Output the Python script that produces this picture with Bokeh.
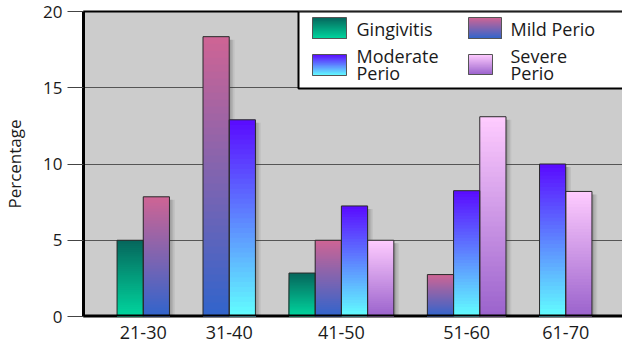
from bokeh.plotting import figure
from bokeh.layouts import column
from bokeh.models import FactorRange, Range1d, FixedTicker, ColumnDataSource
from bokeh.transform import dodge
from bokeh.core.properties import value
from bokeh.embed import file_html
from bokeh.resources import INLINE

ages = ["21-30", "31-40", "41-50", "51-60", "61-70"]
series = ["Gingivitis", "Mild Perio", "Moderate Perio", "Severe Perio"]
gingivitis = [5.0, 0, 2.85, 0, 0]
mild_perio = [7.85, 18.35, 5.0, 2.75, 0]
moderate_perio = [0, 12.9, 7.25, 8.25, 10.0]
severe_perio = [0, 0, 5.0, 13.1, 8.2]
y_ticks = [0, 5, 10, 15, 20]

values = {"Gingivitis": gingivitis, "Mild Perio": mild_perio,
          "Moderate Perio": moderate_perio, "Severe Perio": severe_perio}
top_color = {"Gingivitis": "#06665c", "Mild Perio": "#cf6494",
             "Moderate Perio": "#5a0aff", "Severe Perio": "#ffccff"}
bottom_color = {"Gingivitis": "#00d69e", "Mild Perio": "#3064cc",
                "Moderate Perio": "#62ffff", "Severe Perio": "#9a62cc"}

FONT = value("Open Sans")
GP = 1.28  # group padding / outer padding (in bar widths)


def hex2rgb(h):
    h = h.lstrip("#")
    return [int(h[i:i + 2], 16) for i in (0, 2, 4)]


def lerp(c1, c2, t):
    a, b = hex2rgb(c1), hex2rgb(c2)
    return "#%02x%02x%02x" % tuple(int(round(a[i] + (b[i] - a[i]) * t)) for i in range(3))


factors = []
bar_vals = []
bar_series = []
group_centers = []
pos = 0.0
for i, age in enumerate(ages):
    n = 0
    for s in series:
        v = values[s][i]
        if v > 0:
            factors.append((age, s))
            bar_vals.append(v)
            bar_series.append(s)
            n += 1
    group_centers.append(pos + n / 2.0)
    pos += n + GP

FW, FH = 542, 305
FL, FT = 78, 11
BB = 8  # white strip under the frame inside the main figure
span = len(factors) + GP * (len(ages) - 1) + 2 * GP


def sx(px):  # canvas px -> synthetic categorical coordinate
    return -GP + (px - FL) * span / FW


def sy(py):  # canvas px -> data y
    return (FT + FH - py) / FH * 20.0


xr = FactorRange(*factors, group_padding=GP, factor_padding=0,
                 range_padding=GP, range_padding_units="absolute")

p = figure(x_range=xr, y_range=Range1d(0, 20),
           frame_width=FW, frame_height=FH,
           min_border_left=FL, min_border_right=2, min_border_top=FT, min_border_bottom=BB,
           x_axis_location=None,
           output_backend="svg", toolbar_location=None,
           background_fill_color="#cccccc", border_fill_color="white")

p.outline_line_color = "black"
p.outline_line_width = 2
p.xgrid.visible = False
p.ygrid.grid_line_color = "#555555"
p.ygrid.grid_line_width = 1
p.yaxis.ticker = FixedTicker(ticks=y_ticks)
p.yaxis.minor_tick_line_color = None
p.yaxis.major_tick_out = 16
p.yaxis.major_tick_in = 0
p.yaxis.major_tick_line_color = "#444444"
p.yaxis.axis_line_width = 3
p.yaxis.axis_line_color = "black"
p.yaxis.major_label_text_font = "Open Sans"
p.yaxis.major_label_text_font_size = "17px"
p.yaxis.major_label_text_color = "#1a1a1a"
p.yaxis.major_label_standoff = 5
p.yaxis.axis_label = "Percentage"
p.yaxis.axis_label_text_font = "Open Sans"
p.yaxis.axis_label_text_font_size = "17px"
p.yaxis.axis_label_text_font_style = "normal"
p.yaxis.axis_label_text_color = "#1a1a1a"
p.yaxis.axis_label_standoff = 14

# shadows
src = ColumnDataSource(dict(x=factors, v=bar_vals, vs=[v - 0.2 for v in bar_vals]))
for off, a in [(0.08, 0.12), (0.14, 0.10), (0.2, 0.08)]:
    p.vbar(x=dodge("x", off, range=xr), top="vs", bottom=-0.3, width=1.0, source=src,
           fill_color="#333333", fill_alpha=a, line_color=None)

# gradient bars: nested overlapping slices, tallest first (no seams)
N = 40
bx, bt, bc = [], [], []
for f, v, s in zip(factors, bar_vals, bar_series):
    for k in range(N - 1, -1, -1):
        bx.append(f)
        bt.append(v * (k + 1) / N)
        bc.append(lerp(bottom_color[s], top_color[s], (k + 0.5) / N))
p.vbar(x=bx, bottom=0, top=bt, width=1.0, fill_color=bc, line_color=None)
p.vbar(x="x", top="v", bottom=0, width=1.0, source=src, fill_alpha=0,
       line_color="#2a2a2a", line_width=1)

# thick bottom axis line (inside the frame edge; the outline adds the outer pixel)
p.quad(left=[sx(FL)], right=[sx(FL + FW)], bottom=[0], top=[sy(FT + FH - 2)],
       fill_color="black", line_color=None)

# legend (positions given in canvas pixels, converted)
p.quad(left=[sx(293)], right=[sx(620)], top=[sy(11)], bottom=[sy(88)],
       fill_color="white", line_color="black", line_width=2)
swatches = {"Gingivitis": (307, 341, 17, 38), "Mild Perio": (463, 496, 17, 38),
            "Moderate Perio": (307, 341, 54, 75), "Severe Perio": (463, 487, 54, 74)}
M = 24
for s, (l, r, t, b) in swatches.items():
    ql, qr, qt, qc = [], [], [], []
    for k in range(M - 1, -1, -1):
        ql.append(sx(l)); qr.append(sx(r))
        qt.append(sy(t + (b - t) * (M - 1 - k) / M))
        qc.append(lerp(top_color[s], bottom_color[s], (M - 1 - k + 0.5) / M))
    p.quad(left=ql, right=qr, top=qt, bottom=sy(b), fill_color=qc, line_color=None)
    p.quad(left=[sx(l)], right=[sx(r)], top=[sy(t)], bottom=[sy(b)], fill_alpha=0,
           line_color="#555555", line_width=1)

leg_text = ["Gingivitis", "Mild Perio", "Moderate", "Perio", "Severe", "Perio"]
leg_px = [351, 505, 351, 351, 505, 505]
leg_py = [28, 28, 55, 72, 55, 72]
p.text(x=[sx(v) for v in leg_px], y=[sy(v) for v in leg_py], text=leg_text,
       text_font=FONT, text_font_size="18px",
       text_color="#1a1a1a", text_align="left", text_baseline="middle")

# strip below the plot holding the category labels and the (cut-off) axis title
QH = 356 - (FT + FH + BB)
top_q = FT + FH + BB  # canvas y of the strip's top edge
q = figure(x_range=xr, y_range=Range1d(QH, 0),
           frame_width=FW, frame_height=QH,
           min_border_left=FL, min_border_right=2, min_border_top=0, min_border_bottom=0,
           x_axis_location=None, y_axis_location=None,
           output_backend="svg", toolbar_location=None,
           background_fill_color="white", border_fill_color="white")
q.outline_line_color = None
q.grid.visible = False
q.text(x=group_centers, y=[332 - top_q] * len(ages), text=ages, text_font=FONT,
       text_font_size="18px", text_color="#1a1a1a", text_align="center",
       text_baseline="middle")
q.text(x=[sx(349)], y=[364 - top_q], text=["Age Group"], text_font=FONT,
       text_font_size="18px", text_color="#1a1a1a", text_align="center",
       text_baseline="alphabetic")

layout = column(p, q, spacing=0)
open("out.html", "w").write(file_html(layout, INLINE))
